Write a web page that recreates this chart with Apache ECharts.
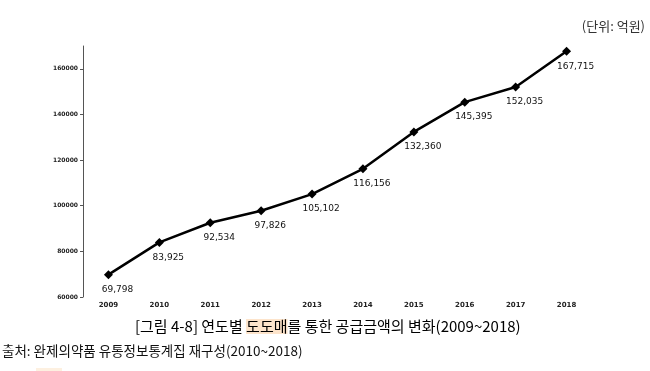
<!DOCTYPE html>
<html>
<head>
<meta charset="utf-8">
<script src="https://cdn.jsdelivr.net/npm/echarts@6/dist/echarts.min.js"></script>
<style>
html,body{margin:0;padding:0;background:#fff;}
#chart{width:650px;height:371px;}
</style>
</head>
<body>
<div id="chart"></div>
<script>
const years = ['2009','2010','2011','2012','2013','2014','2015','2016','2017','2018'];
const amounts = [69798, 83925, 92534, 97826, 105102, 116156, 132360, 145395, 152035, 167715];
const yTicks = [60000, 80000, 100000, 120000, 140000, 160000];
const unitText = '(단위: 억원)';
const captionPre = '[그림 4-8] 연도별 ';
const captionHi = '도도매';
const captionPost = '를 통한 공급금액의 변화(2009~2018)';
const sourceText = '출처: 완제의약품 유통정보통계집 재구성(2010~2018)';

const chart = echarts.init(document.getElementById('chart'), null, {renderer: 'canvas'});
const fmt = v => v.toLocaleString('en-US');
chart.setOption({
  animation: false,
  backgroundColor: '#fff',
  grid: {left: 83, right: 58, top: 46, bottom: 74, containLabel: false},
  xAxis: {
    type: 'category',
    data: years,
    boundaryGap: true,
    axisLine: {show: false},
    axisTick: {show: false},
    axisLabel: {fontSize: 7, color: '#222', fontWeight: 'bold', margin: 5, fontFamily: 'DejaVu Sans'}
  },
  yAxis: {
    type: 'value',
    min: yTicks[0],
    max: 170000,
    interval: 20000,
    splitLine: {show: false},
    axisLine: {show: true, lineStyle: {color: '#555', width: 1}},
    axisTick: {show: true, length: 3, lineStyle: {color: '#555'}},
    axisLabel: {fontSize: 6, color: '#222', fontWeight: 'bold', margin: 5, showMaxLabel: false,
      fontFamily: 'DejaVu Sans',
      formatter: v => (yTicks.indexOf(v) >= 0 ? String(v) : '')}
  },
  series: [{
    type: 'line',
    data: amounts,
    symbol: 'diamond',
    symbolSize: 9,
    lineStyle: {color: '#000', width: 2.5},
    itemStyle: {color: '#000'},
    label: {
      show: true, position: 'bottom', distance: 4, offset: [9, 2],
      fontSize: 9, color: '#111', fontFamily: 'DejaVu Sans',
      formatter: p => fmt(p.value)
    }
  }],
  graphic: [
    {type: 'text', right: 5, top: 20,
     style: {text: unitText, font: '13px "Noto Sans CJK KR"', fill: '#333'}},
    {type: 'text', left: 135, top: 319,
     style: {
       text: '{a|' + captionPre + '}{h|' + captionHi + '}{a|' + captionPost + '}',
       rich: {
         a: {font: '15px "Noto Sans CJK KR"', color: '#222'},
         h: {font: '15px "Noto Sans CJK KR"', color: '#222', backgroundColor: '#fde4cb'}
       }
     }},
    {type: 'text', left: 2, top: 344,
     style: {text: sourceText, font: '13.5px "Noto Sans CJK KR"', fill: '#111'}},
    {type: 'rect', left: 36, top: 368, shape: {width: 26, height: 3}, style: {fill: '#fdf0e0'}}
  ]
});
</script>
</body>
</html>
